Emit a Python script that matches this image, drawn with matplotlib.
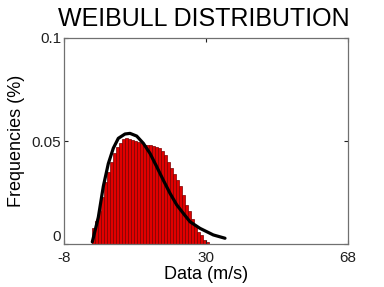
import matplotlib
matplotlib.use("Agg")
import matplotlib.pyplot as plt

plt.rcParams["font.family"] = ["Liberation Sans", "DejaVu Sans"]

# histogram: bin centres (m/s) and frequencies
BIN_W = 0.8
bin_centres = [round(i * BIN_W, 2) for i in range(39)]
freq = [0.008, 0.011, 0.016, 0.023, 0.030, 0.035, 0.040, 0.044, 0.047, 0.049,
        0.051, 0.0515, 0.051, 0.0505, 0.050, 0.0495, 0.049, 0.048, 0.048, 0.048,
        0.0475, 0.047, 0.0465, 0.045, 0.043, 0.040, 0.037, 0.034, 0.031, 0.028,
        0.024, 0.019, 0.016, 0.012, 0.009, 0.006, 0.0045, 0.002, 0.001]

# fitted weibull curve
fit_x = [-0.43, 1.18, 2.52, 3.85, 5.19, 6.53, 8.32, 9.66, 11.45, 13.22,
         15.01, 16.81, 18.57, 20.37, 22.16, 23.92, 25.72, 28.39, 31.95, 35.08]
fit_y = [0.001, 0.013, 0.028, 0.039, 0.0465, 0.0513, 0.0534, 0.0537, 0.0524, 0.0489,
         0.044, 0.0375, 0.031, 0.0246, 0.019, 0.0149, 0.0108, 0.0076, 0.0044, 0.0028]

xticks = [-8, 30, 68]
yticks = [0, 0.05, 0.1]
yticklabels = ["0", "0.05", "0.1"]

fig = plt.figure(figsize=(3.84, 2.87), dpi=100)
ax = fig.add_axes([0.1667, 0.1498, 0.7396, 0.7178])

ax.bar(bin_centres, freq, width=BIN_W, color="#e00000", edgecolor="#7a0000", linewidth=0.5)
ax.plot(fit_x, fit_y, color="black", lw=2.3, solid_capstyle="round")

ax.set_xlim(-8, 68)
ax.set_ylim(0, 0.1)
ax.set_xticks(xticks)
ax.set_xticklabels([str(t) for t in xticks])
ax.set_yticks(yticks)
ax.set_yticklabels(yticklabels)
ax.tick_params(direction="in", top=True, right=True, labelsize=11, length=3,
               colors="#202020")
ax.tick_params(axis="x", pad=5)
ax.tick_params(axis="y", pad=2)
ax.get_yticklabels()[0].set_va("bottom")
for s in ax.spines.values():
    s.set_color("#707070")
    s.set_linewidth(0.9)

ax.set_xlabel("Data (m/s)", fontsize=13, labelpad=1)
ax.set_ylabel("Frequencies (%)", fontsize=13, labelpad=5)
fig.text(0.53, 0.935, "WEIBULL DISTRIBUTION", ha="center", va="center", fontsize=18)

fig.savefig("out.png", dpi=100)
